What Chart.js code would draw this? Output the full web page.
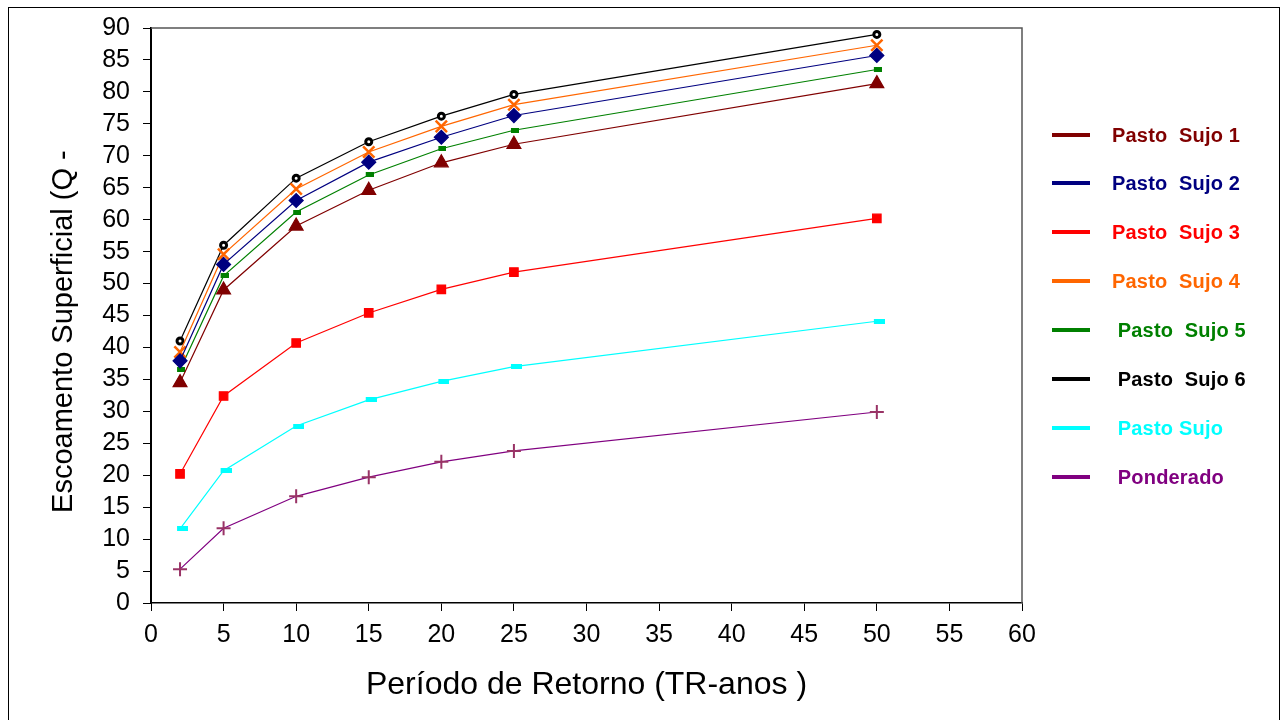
<!DOCTYPE html>
<html>
<head>
<meta charset="utf-8">
<script src="https://cdn.jsdelivr.net/npm/chart.js@4/dist/chart.umd.min.js"></script>
<style>
  body { margin: 0; background: #fff; }
  #wrap { position: relative; width: 1280px; height: 720px; overflow: hidden; }
  #frame { position: absolute; left: 8px; top: 7px; width: 1270px; height: 740px; border: 1px solid #000; border-right-width: 2px; }
  canvas { position: absolute; left: 0; top: 0; }
  #legend { position: absolute; left: 1052px; top: 0; font-family: "Liberation Sans", Arial, sans-serif; font-weight: bold; font-size: 20px; }
  .item { position: absolute; left: 0; width: 230px; height: 24px; }
  .item .swatch { position: absolute; left: 0; top: 10px; width: 38px; height: 4px; }
  .item .txt { position: absolute; left: 60px; top: 0; line-height: 24px; white-space: pre; letter-spacing: 0.2px; }
</style>
</head>
<body>
<div id="wrap">
  <div id="frame"></div>
  <canvas id="chart" width="1280" height="720"></canvas>
  <div id="legend"></div>
</div>
<script>
// return periods (years)
const periods = [2, 5, 10, 15, 20, 25, 50];

const sujo1 = [34.5, 49, 59, 64.6, 68.9, 71.8, 81.3];
const sujo2 = [37.9, 53, 63, 69, 72.9, 76.3, 85.7];
const sujo3 = [20.2, 32.4, 40.7, 45.4, 49.1, 51.8, 60.2];
const sujo4 = [39.3, 54.6, 64.8, 70.6, 74.6, 78, 87.3];
const sujo5 = [36.5, 51.2, 61.2, 67, 71.1, 74, 83.5];
const sujo6 = [41, 56, 66.5, 72.2, 76.2, 79.6, 89];
const pastoSujo = [11.6, 20.7, 27.7, 31.8, 34.7, 37, 44.1];
const ponderado = [5.3, 11.7, 16.7, 19.7, 22.1, 23.8, 29.9];

const seriesLabels = ['Pasto  Sujo 1', 'Pasto  Sujo 2', 'Pasto  Sujo 3', 'Pasto  Sujo 4',
  ' Pasto  Sujo 5', ' Pasto  Sujo 6', ' Pasto Sujo', ' Ponderado'];

const xTitle = 'Período de Retorno (TR-anos )';
// trailing spaces keep the cut-off title sitting where the original has it
const yTitle = 'Escoamento Superficial (Q -    ';

// little dash marker, drawn to the right of the point like the original
function dashMarker(color, w, h) {
  const c = document.createElement('canvas');
  c.width = w * 2 - 6;
  c.height = h;
  const g = c.getContext('2d');
  g.fillStyle = color;
  g.fillRect(w - 6, 0, w, h);
  return c;
}

function pts(values) {
  return periods.map((p, i) => ({ x: p, y: values[i] }));
}

const datasets = [
  { label: seriesLabels[0], data: pts(sujo1), borderColor: '#800000', pointStyle: 'triangle',
    pointRadius: 8, pointBackgroundColor: '#800000', pointBorderColor: '#800000' },
  { label: seriesLabels[1], data: pts(sujo2), borderColor: '#000080', pointStyle: 'rectRot',
    pointRadius: 7, pointBackgroundColor: '#000080', pointBorderColor: '#000080' },
  { label: seriesLabels[2], data: pts(sujo3), borderColor: '#ff0000', pointStyle: 'rect',
    pointRadius: 6, pointBackgroundColor: '#ff0000', pointBorderColor: '#ff0000' },
  { label: seriesLabels[3], data: pts(sujo4), borderColor: '#ff6600', pointStyle: 'crossRot',
    pointRadius: 8, pointBorderWidth: 2.5, pointBorderColor: '#ff6600' },
  { label: seriesLabels[4], data: pts(sujo5), borderColor: '#008000',
    pointStyle: dashMarker('#008000', 8, 5), pointRadius: 5 },
  { label: seriesLabels[5], data: pts(sujo6), borderColor: '#000000', pointStyle: 'circle',
    pointRadius: 3, pointBorderWidth: 3, pointBackgroundColor: '#ffffff', pointBorderColor: '#000000' },
  { label: seriesLabels[6], data: pts(pastoSujo), borderColor: '#00ffff',
    pointStyle: dashMarker('#00ffff', 11, 5), pointRadius: 5 },
  { label: seriesLabels[7], data: pts(ponderado), borderColor: '#800080', pointStyle: 'cross',
    pointRadius: 7, pointBorderWidth: 2, pointBorderColor: '#993366' }
];
datasets.forEach(d => { d.borderWidth = 1.2; d.fill = false; d.tension = 0; d.clip = false; });

// grey frame on top and right of the plot area
const plotFrame = {
  id: 'plotFrame',
  beforeDatasetsDraw(chart) {
    const { ctx, chartArea: a } = chart;
    ctx.save();
    ctx.strokeStyle = '#555';
    ctx.lineWidth = 1.5;
    ctx.beginPath();
    ctx.moveTo(a.left, a.top);
    ctx.lineTo(a.right, a.top);
    ctx.lineTo(a.right, a.bottom);
    ctx.stroke();
    ctx.restore();
  }
};

const fam = '"Liberation Sans", Arial, sans-serif';
const tickFont = { family: fam, size: 25, lineHeight: 1 };

const chart = new Chart(document.getElementById('chart').getContext('2d'), {
  type: 'line',
  data: { datasets: datasets },
  options: {
    responsive: false,
    animation: false,
    layout: { padding: { left: 0, top: 28, right: 258, bottom: 0 } },
    plugins: { legend: { display: false }, tooltip: { enabled: false } },
    scales: {
      x: {
        type: 'linear', min: 0, max: 60,
        ticks: { stepSize: 5, font: tickFont, color: '#000', padding: 12, maxRotation: 0, autoSkip: false },
        grid: { drawOnChartArea: false, tickLength: 8, color: '#000' },
        border: { color: '#000', width: 1.5 },
        title: { display: true, text: xTitle, font: { family: fam, size: 32 }, color: '#000',
          padding: { top: 4, bottom: 16 } },
        afterFit(s) { s.height = 117; }
      },
      y: {
        type: 'linear', min: 0, max: 90,
        ticks: { stepSize: 5, font: tickFont, color: '#000', padding: 13, autoSkip: false },
        grid: { drawOnChartArea: false, tickLength: 8, color: '#000' },
        border: { color: '#000', width: 2 },
        title: { display: true, text: yTitle, font: { family: fam, size: 29 }, color: '#000',
          padding: { top: 47, bottom: 0 } },
        afterFit(s) { s.width = 151; }
      }
    }
  },
  plugins: [plotFrame]
});

// html legend from the chart's datasets
const legendTops = [123, 171, 220, 269, 318, 367, 416, 465];
const legend = document.getElementById('legend');
chart.data.datasets.forEach((d, i) => {
  const item = document.createElement('div');
  item.className = 'item';
  item.style.top = legendTops[i] + 'px';
  const sw = document.createElement('div');
  sw.className = 'swatch';
  sw.style.background = d.borderColor;
  const t = document.createElement('div');
  t.className = 'txt';
  t.style.color = d.borderColor;
  t.textContent = d.label;
  item.appendChild(sw);
  item.appendChild(t);
  legend.appendChild(item);
});
</script>
</body>
</html>
